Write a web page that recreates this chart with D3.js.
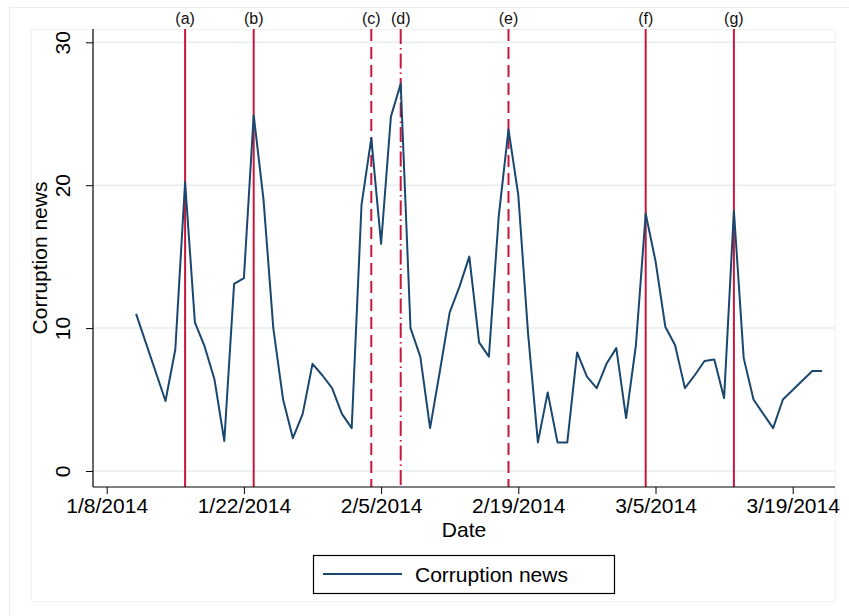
<!DOCTYPE html>
<html>
<head>
<meta charset="utf-8">
<script src="https://cdn.jsdelivr.net/npm/d3@7"></script>
<style>
  body { margin: 0; background: #fff; }
  svg { display: block; font-family: "Liberation Sans", Arial, sans-serif; }
</style>
</head>
<body>
<svg width="849" height="616"></svg>
<script>
// daily counts of corruption news
const dates = ["2014-01-11","2014-01-14","2014-01-15","2014-01-16","2014-01-17","2014-01-18","2014-01-19",
  "2014-01-20","2014-01-21","2014-01-22","2014-01-23","2014-01-24","2014-01-25","2014-01-26","2014-01-27",
  "2014-01-28","2014-01-29","2014-01-30","2014-01-31","2014-02-01","2014-02-02","2014-02-03","2014-02-04",
  "2014-02-05","2014-02-06","2014-02-07","2014-02-08","2014-02-09","2014-02-10","2014-02-11","2014-02-12",
  "2014-02-13","2014-02-14","2014-02-15","2014-02-16","2014-02-17","2014-02-18","2014-02-19","2014-02-20",
  "2014-02-21","2014-02-22","2014-02-23","2014-02-24","2014-02-25","2014-02-26","2014-02-27","2014-02-28",
  "2014-03-01","2014-03-02","2014-03-03","2014-03-04","2014-03-05","2014-03-06","2014-03-07","2014-03-08",
  "2014-03-09","2014-03-10","2014-03-11","2014-03-12","2014-03-13","2014-03-14","2014-03-15","2014-03-17",
  "2014-03-18","2014-03-21","2014-03-22"]
const news = [11.0, 4.9, 8.5, 20.2, 10.4, 8.7, 6.4,
  2.1, 13.1, 13.5, 24.9, 19.0, 10.0, 5.0, 2.3,
  4.0, 7.5, 6.7, 5.8, 4.0, 3.0, 18.6, 23.3,
  15.9, 24.8, 27.1, 10.0, 8.0, 3.0, 7.0, 11.1,
  12.9, 15.0, 9.0, 8.0, 17.8, 23.9, 19.3, 9.6,
  2.0, 5.5, 2.0, 2.0, 8.3, 6.6, 5.8, 7.5,
  8.6, 3.7, 8.8, 18.0, 14.7, 10.1, 8.8, 5.8,
  6.7, 7.7, 7.8, 5.1, 18.2, 7.9, 5.0, 3.0,
  5.0, 7.0, 7.0]

// event markers
const eventLabels = ["(a)","(b)","(c)","(d)","(e)","(f)","(g)"]
const eventDates = ["2014-01-16","2014-01-23","2014-02-04","2014-02-07","2014-02-18","2014-03-04","2014-03-13"]
const eventStyles = ["solid","solid","dash","dashdot","dash","solid","solid"]

const xTicks = ["2014-01-08","2014-01-22","2014-02-05","2014-02-19","2014-03-05","2014-03-19"]
const yTicks = [0, 10, 20, 30]

const parse = d3.timeParse("%Y-%m-%d")
const data = dates.map((d, i) => ({date: parse(d), value: news[i]}))

const navy = "#1a476f"
const red = "#c8173c"
const grid = "#e6eef0"

const svg = d3.select("svg")

// outer frames
svg.append("rect").attr("x", 9.5).attr("y", 7.5).attr("width", 860).attr("height", 620)
  .attr("fill", "none").attr("stroke", "#e8eff1")
svg.append("rect").attr("x", 31.5).attr("y", 29.5).attr("width", 804).attr("height", 572)
  .attr("fill", "none").attr("stroke", "#eef3f4")

const plotL = 93, plotR = 835, plotT = 29, plotB = 487

const x = d3.scaleTime()
  .domain([parse(xTicks[0]), parse(xTicks[xTicks.length - 1])])
  .range([106.7, 792.7])
const y = d3.scaleLinear().domain([0, 30]).range([471, 42.3])

// gridlines
svg.append("g").selectAll("line")
  .data(yTicks)
  .join("line")
  .attr("x1", plotL).attr("x2", plotR)
  .attr("y1", d => y(d)).attr("y2", d => y(d))
  .attr("stroke", grid).attr("stroke-width", 1.5)

// event lines
const dashFor = {solid: null, dash: "12,6", dashdot: "15,4,1.5,4"}
const ev = svg.append("g")
ev.selectAll("line")
  .data(eventDates)
  .join("line")
  .attr("x1", d => x(parse(d))).attr("x2", d => x(parse(d)))
  .attr("y1", plotT).attr("y2", plotB)
  .attr("stroke", red).attr("stroke-width", 2)
  .attr("stroke-dasharray", (d, i) => dashFor[eventStyles[i]])
ev.selectAll("text")
  .data(eventDates)
  .join("text")
  .attr("x", d => x(parse(d))).attr("y", 24)
  .attr("text-anchor", "middle")
  .attr("font-size", 16)
  .attr("fill", "#111")
  .text((d, i) => eventLabels[i])

// series line
const line = d3.line().x(d => x(d.date)).y(d => y(d.value))
svg.append("path")
  .datum(data)
  .attr("d", line)
  .attr("fill", "none")
  .attr("stroke", navy)
  .attr("stroke-width", 2)
  .attr("stroke-linejoin", "round")

// x axis
const xAxis = svg.append("g")
  .attr("transform", `translate(0,${plotB})`)
  .call(d3.axisBottom(x)
    .tickValues(xTicks.map(parse))
    .tickFormat(d3.timeFormat("%-m/%-d/%Y"))
    .tickSize(7).tickPadding(4).tickSizeOuter(0))
xAxis.select(".domain").remove()
xAxis.selectAll("line").attr("stroke", "#000")
xAxis.selectAll("text").attr("font-size", 21).attr("font-family", "Liberation Sans, Arial, sans-serif")
  .attr("fill", "#000")
svg.append("line").attr("x1", plotL).attr("x2", plotR).attr("y1", plotB).attr("y2", plotB)
  .attr("stroke", "#000").attr("stroke-width", 1.2)

// y axis
const yAxis = svg.append("g")
  .attr("transform", `translate(${plotL},0)`)
  .call(d3.axisLeft(y).tickValues(yTicks).tickSize(7).tickSizeOuter(0))
yAxis.select(".domain").remove()
yAxis.selectAll("line").attr("stroke", "#000")
yAxis.selectAll("text")
  .attr("x", null).attr("dy", null)
  .attr("transform", "translate(-23,0) rotate(-90)")
  .attr("text-anchor", "middle")
  .attr("font-size", 21).attr("font-family", "Liberation Sans, Arial, sans-serif")
  .attr("fill", "#000")
svg.append("line").attr("x1", plotL).attr("x2", plotL).attr("y1", plotT).attr("y2", plotB)
  .attr("stroke", "#000").attr("stroke-width", 1.2)

// axis titles
svg.append("text")
  .attr("transform", `translate(47,${(plotT + plotB) / 2}) rotate(-90)`)
  .attr("text-anchor", "middle")
  .attr("font-size", 21)
  .text("Corruption news")
svg.append("text")
  .attr("x", (plotL + plotR) / 2).attr("y", 537)
  .attr("text-anchor", "middle")
  .attr("font-size", 21)
  .text("Date")

// legend
const lg = svg.append("g")
lg.append("rect").attr("x", 313.5).attr("y", 555.5).attr("width", 301).attr("height", 38)
  .attr("fill", "#fff").attr("stroke", "#000").attr("stroke-width", 1.2)
lg.append("line").attr("x1", 323).attr("x2", 402).attr("y1", 574).attr("y2", 574)
  .attr("stroke", navy).attr("stroke-width", 2)
lg.append("text").attr("x", 415).attr("y", 582).attr("font-size", 21).text("Corruption news")
</script>
</body>
</html>
